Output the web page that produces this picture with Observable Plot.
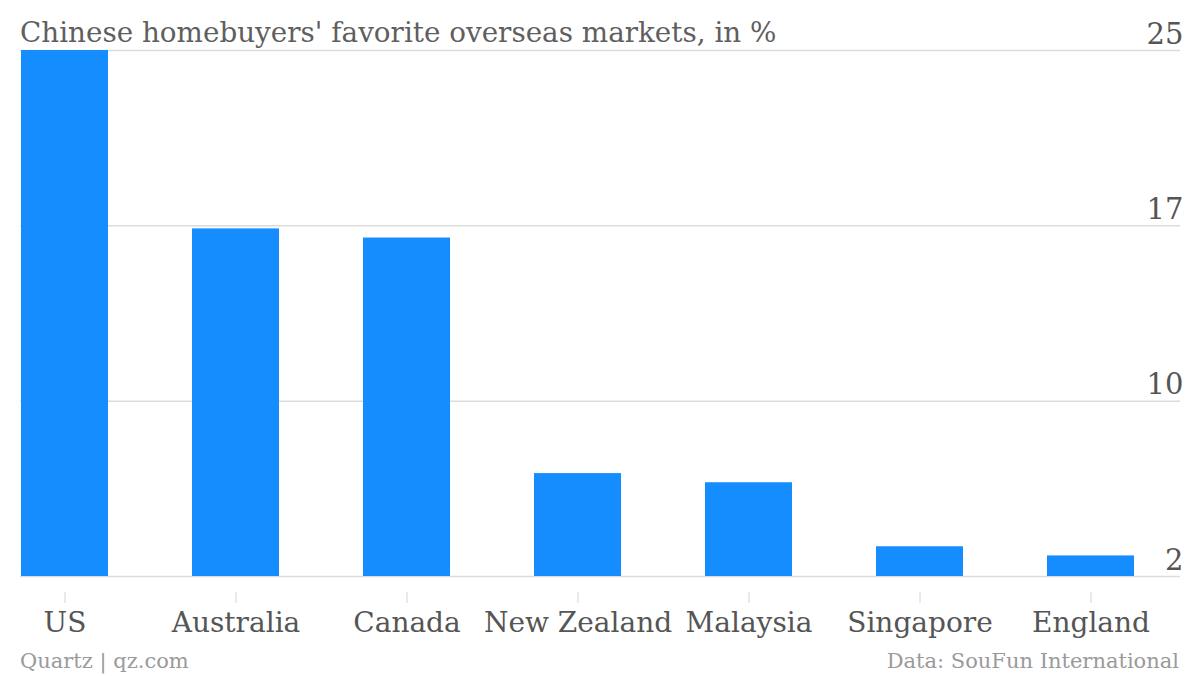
<!DOCTYPE html>
<html>
<head>
<meta charset="utf-8">
<script src="https://cdn.jsdelivr.net/npm/d3@7"></script>
<script src="https://cdn.jsdelivr.net/npm/@observablehq/plot@0.6"></script>
<style>
  html, body { margin: 0; padding: 0; background: #fff; }
  #chart { width: 1200px; height: 676px; }
</style>
</head>
<body>
<div id="chart"></div>
<script>
// ---- Data ----
const countries = ["US", "Australia", "Canada", "New Zealand", "Malaysia", "Singapore", "England"];
const shares = [25, 17.2, 16.8, 6.5, 6.1, 3.3, 2.9];
const yTickValues = [2, 9.667, 17.333, 25];
const yTickLabels = ["2", "10", "17", "25"];
const yBase = 2;
const titleText = "Chinese homebuyers' favorite overseas markets, in %";
const sourceLeft = "Quartz | qz.com";
const sourceRight = "Data: SouFun International";

const data = countries.map((c, i) => ({country: c, value: shares[i]}));

const FONT = "'DejaVu Serif', serif";
const BLUE = "#168dff";

const plot = Plot.plot({
  width: 1200,
  height: 676,
  marginTop: 50,
  marginBottom: 100,
  marginLeft: 20,
  marginRight: 20,
  style: {fontFamily: FONT, background: "#fff", color: "#555"},
  x: {domain: countries, range: [20, 1135], paddingInner: 0.49, paddingOuter: 0, label: null},
  y: {domain: [2, 25], axis: null},
  marks: [
    Plot.ruleY(yTickValues, {stroke: "#dcdcdc", strokeWidth: 1.5}),
    Plot.barY(data, {x: "country", y1: () => yBase, y2: "value", fill: BLUE}),
    Plot.text(yTickValues, {
      y: d => d,
      text: (d, i) => yTickLabels[i],
      frameAnchor: "right",
      textAnchor: "end",
      lineAnchor: "bottom",
      dx: 3,
      dy: -7,
      fill: "#555",
      fontSize: 29
    }),
    Plot.axisX({
      tickSize: 11,
      dy: 16,
      tickPadding: 9,
      stroke: "#d6d6d6",
      fill: "#555",
      fontSize: 28,
      label: null
    })
  ]
});

document.getElementById("chart").appendChild(plot);

const svg = d3.select(plot);
svg.append("text")
  .attr("x", 20).attr("y", 42)
  .attr("text-anchor", "start")
  .attr("fill", "#5f5f5f")
  .style("font-family", FONT)
  .style("font-size", "27.8px")
  .text(titleText);
svg.append("text")
  .attr("x", 20).attr("y", 668)
  .attr("text-anchor", "start")
  .attr("fill", "#9a9a9a")
  .style("font-family", FONT)
  .style("font-size", "21px")
  .text(sourceLeft);
svg.append("text")
  .attr("x", 1179).attr("y", 668)
  .attr("text-anchor", "end")
  .attr("fill", "#9a9a9a")
  .style("font-family", FONT)
  .style("font-size", "21px")
  .text(sourceRight);
</script>
</body>
</html>
